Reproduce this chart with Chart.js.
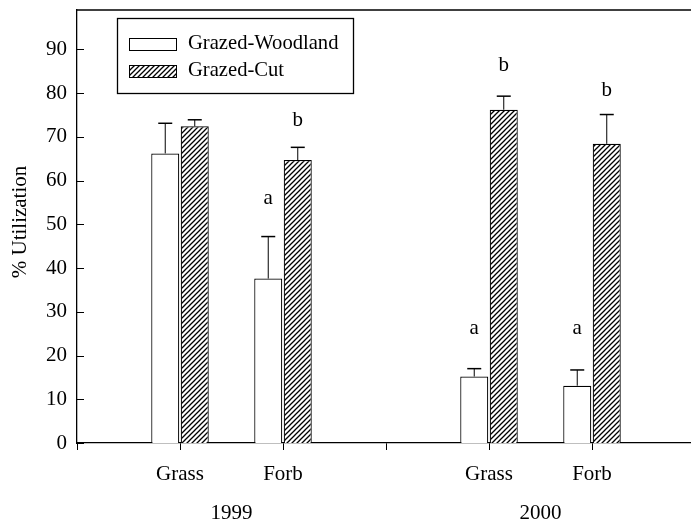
<!DOCTYPE html>
<html>
<head>
<meta charset="utf-8">
<script src="https://cdn.jsdelivr.net/npm/chart.js@4.4.0/dist/chart.umd.min.js"></script>
<style>
  html, body { margin: 0; padding: 0; background: #fff; overflow: hidden; }
  #wrap { position: absolute; left: 0; top: 0; width: 700px; height: 523px; }
</style>
</head>
<body>
<div id="wrap"><canvas id="chart"></canvas></div>
<script>
// Data (% utilization, mean and upper error bar)
const categories = ['', 'Grass', 'Forb', '', 'Grass', 'Forb', ''];
const years = ['1999', '2000'];
const yearSlots = [[1, 2], [4, 5]];
const woodland = [null, 66.2, 37.6, null, 15.2, 13.1, null];
const woodlandErr = [null, 6.9, 9.6, null, 1.8, 3.6, null];
const cut = [null, 72.4, 64.7, null, 76.2, 68.4, null];
const cutErr = [null, 1.5, 2.9, null, 3.1, 6.7, null];
// significance letters and the value height they sit at
const woodlandLetters = [null, null, 'a', null, 'a', 'a', null];
const woodlandLetterAt = [null, null, 56, null, 26.2, 26.2, null];
const cutLetters = [null, null, 'b', null, 'b', 'b', null];
const cutLetterAt = [null, null, 73.8, null, 86.4, 80.7, null];
const yTicks = [0, 10, 20, 30, 40, 50, 60, 70, 80, 90];

const FAMILY = '"Liberation Serif", "Times New Roman", serif';
const FONT = '21px ' + FAMILY;

// diagonal hatch
function makeHatch() {
    const c = document.createElement('canvas');
    c.width = 5; c.height = 5;
    const g = c.getContext('2d');
    g.fillStyle = '#fff';
    g.fillRect(0, 0, 5, 5);
    g.strokeStyle = '#000';
    g.lineWidth = 1.3;
    g.beginPath();
    g.moveTo(-1, 6); g.lineTo(6, -1);
    g.moveTo(-1, 1); g.lineTo(1, -1);
    g.moveTo(4, 6); g.lineTo(6, 4);
    g.stroke();
    return g.createPattern(c, 'repeat');
}
const hatch = makeHatch();

const extras = {
    id: 'extras',
    afterDatasetsDraw(chart) {
        const { ctx, chartArea, scales } = chart;
        const x = scales.x, y = scales.y;
        ctx.save();
        ctx.strokeStyle = '#000';
        ctx.fillStyle = '#000';

        // top frame line
        ctx.lineWidth = 1.3;
        ctx.beginPath();
        ctx.moveTo(chartArea.left, chartArea.top);
        ctx.lineTo(chart.width, chartArea.top);
        ctx.stroke();

        // inward y ticks
        ctx.lineWidth = 1;
        yTicks.forEach(v => {
            const py = Math.round(y.getPixelForValue(v)) + 0.5;
            ctx.beginPath();
            ctx.moveTo(chartArea.left, py);
            ctx.lineTo(chartArea.left + 7, py);
            ctx.stroke();
        });

        // error bars + letters
        const sets = [
            { vals: woodland, err: woodlandErr, letters: woodlandLetters, at: woodlandLetterAt },
            { vals: cut, err: cutErr, letters: cutLetters, at: cutLetterAt }
        ];
        ctx.font = FONT;
        ctx.textAlign = 'center';
        ctx.textBaseline = 'middle';
        sets.forEach((s, di) => {
            const meta = chart.getDatasetMeta(di);
            s.vals.forEach((v, i) => {
                if (v === null) return;
                const bar = meta.data[i];
                const top = y.getPixelForValue(v);
                const end = y.getPixelForValue(v + s.err[i]);
                ctx.lineWidth = 1;
                ctx.beginPath();
                ctx.moveTo(bar.x, top);
                ctx.lineTo(bar.x, end);
                ctx.stroke();
                ctx.lineWidth = 1.5;
                ctx.beginPath();
                ctx.moveTo(bar.x - 7, end);
                ctx.lineTo(bar.x + 7, end);
                ctx.stroke();
                if (s.letters[i]) {
                    ctx.fillText(s.letters[i], bar.x, y.getPixelForValue(s.at[i]));
                }
            });
        });

        // year labels
        years.forEach((yr, k) => {
            const [a, b] = yearSlots[k];
            const px = (x.getPixelForValue(a) + x.getPixelForValue(b)) / 2;
            ctx.fillText(yr, px, 513);
        });

        // y title
        ctx.save();
        ctx.translate(20, 222);
        ctx.rotate(-Math.PI / 2);
        ctx.fillText('% Utilization', 0, 0);
        ctx.restore();

        // legend
        ctx.fillStyle = '#fff';
        ctx.fillRect(117, 18, 236, 75);
        ctx.lineWidth = 1.3;
        ctx.strokeRect(117.5, 18.5, 236, 75);
        ctx.font = '20.6px ' + FAMILY;
        const rows = [
            { label: chart.data.datasets[0].label, fill: '#fff', yc: 44 },
            { label: chart.data.datasets[1].label, fill: hatch, yc: 71 }
        ];
        rows.forEach(r => {
            ctx.fillStyle = r.fill;
            ctx.fillRect(129, r.yc - 6, 47, 12);
            ctx.lineWidth = 1;
            ctx.strokeRect(129.5, r.yc - 5.5, 47, 12);
            ctx.fillStyle = '#000';
            ctx.textAlign = 'left';
            ctx.fillText(r.label, 188, r.yc);
        });
        ctx.restore();
    }
};

new Chart(document.getElementById('chart'), {
    type: 'bar',
    data: {
        labels: categories,
        datasets: [
            {
                label: 'Grazed-Woodland',
                data: woodland,
                backgroundColor: '#fff',
                borderColor: '#000',
                borderWidth: 1.2,
                borderSkipped: 'bottom'
            },
            {
                label: 'Grazed-Cut',
                data: cut,
                backgroundColor: hatch,
                borderColor: '#000',
                borderWidth: 1.2,
                borderSkipped: 'bottom'
            }
        ]
    },
    options: {
        responsive: true,
        maintainAspectRatio: false,
        animation: false,
        events: [],
        categoryPercentage: 0.573,
        barPercentage: 0.95,
        layout: { padding: { top: 10, left: 0, right: 5, bottom: 0 } },
        plugins: {
            legend: { display: false },
            tooltip: { enabled: false }
        },
        scales: {
            x: {
                offset: false,
                grid: {
                    offset: false,
                    drawOnChartArea: false,
                    drawTicks: true,
                    tickLength: 7,
                    color: '#000',
                    lineWidth: 1
                },
                border: { display: true, color: '#000', width: 1.3 },
                ticks: {
                    autoSkip: false,
                    maxRotation: 0,
                    color: '#000',
                    font: { family: FAMILY, size: 21 },
                    padding: 12
                },
                afterFit(scale) {
                    scale.height = 80;
                    scale.paddingLeft = 0;
                    scale.paddingRight = 0;
                }
            },
            y: {
                min: 0,
                max: 99,
                grid: { display: false },
                border: { display: true, color: '#000', width: 1.3 },
                ticks: {
                    stepSize: 10,
                    includeBounds: false,
                    color: '#000',
                    padding: 2,
                    font: { family: FAMILY, size: 21 }
                },
                afterFit(scale) {
                    scale.width = 77;
                    scale.paddingTop = 0;
                    scale.paddingBottom = 0;
                }
            }
        }
    },
    plugins: [extras]
});
</script>
</body>
</html>
